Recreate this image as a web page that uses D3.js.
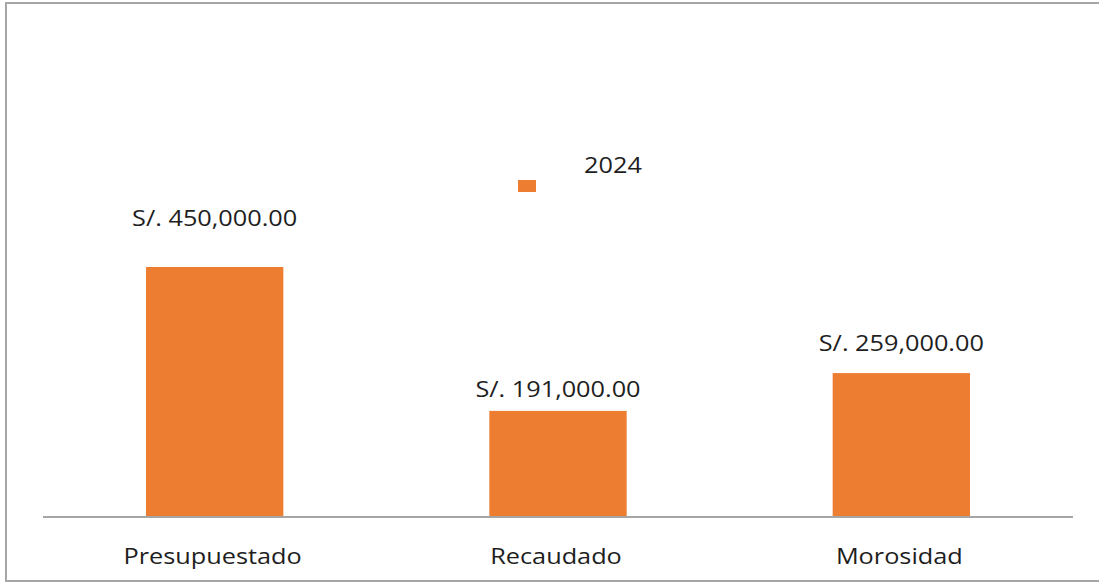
<!DOCTYPE html>
<html>
<head>
<meta charset="utf-8">
<script src="https://cdn.jsdelivr.net/npm/d3@7"></script>
<style>
  html, body { margin: 0; padding: 0; background: #fff; }
  svg { display: block; font-family: "Open Sans", "DejaVu Sans", sans-serif; }
</style>
</head>
<body>
<div id="chart"></div>
<script>
'use strict';
// chart data
var categories = ['Presupuestado', 'Recaudado', 'Morosidad'];
var values2024 = [450000, 191000, 259000];
var seriesName = '2024';
// label gap above each bar, as it sits in the original
var labelGap = [41, 14, 22];

var width = 1099, height = 583;
var orange = '#ED7D31';
var stretch = 1.15;

var svg = d3.select('#chart').append('svg')
  .attr('width', width)
  .attr('height', height);

// outer frame
svg.append('rect')
  .attr('x', 6).attr('y', 3)
  .attr('width', 1100).attr('height', 578)
  .attr('fill', 'none')
  .attr('stroke', '#a6a6a6')
  .attr('stroke-width', 2);

var x = d3.scaleBand()
  .domain(categories)
  .range([43, 1073])
  .paddingInner(0.6)
  .paddingOuter(0.3);

var y = d3.scaleLinear()
  .domain([0, 450000])
  .range([517, 267]);

var fmt = function(v) { return 'S/. ' + d3.format(',.2f')(v); };

function stretchedText(sel) {
  return sel.attr('transform', function(d) { return 'translate(' + d.x + ',' + d.y + ') scale(' + stretch + ',1)'; })
    .attr('text-anchor', 'middle')
    .attr('font-size', 22)
    .attr('fill', '#1e1e1e');
}

var rows = categories.map(function(c, i) {
  return { name: c, value: values2024[i], gap: labelGap[i] };
});

svg.selectAll('rect.bar')
  .data(rows)
  .enter().append('rect')
  .attr('class', 'bar')
  .attr('x', function(d) { return x(d.name); })
  .attr('width', x.bandwidth())
  .attr('y', function(d) { return y(d.value); })
  .attr('height', function(d) { return y(0) - y(d.value); })
  .attr('fill', orange);

// category axis line
svg.append('line')
  .attr('x1', x.range()[0]).attr('x2', x.range()[1])
  .attr('y1', y(0)).attr('y2', y(0))
  .attr('stroke', '#a6a6a6')
  .attr('stroke-width', 2);

svg.selectAll('text.cat')
  .data(rows.map(function(d) { return { t: d.name, x: x(d.name) + x.bandwidth() / 2 - 2, y: 564 }; }))
  .enter().append('text')
  .attr('class', 'cat')
  .call(stretchedText)
  .text(function(d) { return d.t; });

svg.selectAll('text.val')
  .data(rows.map(function(d) { return { t: fmt(d.value), x: x(d.name) + x.bandwidth() / 2, y: y(d.value) - d.gap }; }))
  .enter().append('text')
  .attr('class', 'val')
  .call(stretchedText)
  .text(function(d) { return d.t; });

// legend
var legend = svg.append('g');
legend.append('rect')
  .attr('x', 518).attr('y', 180)
  .attr('width', 18).attr('height', 12)
  .attr('fill', orange);
legend.append('text')
  .datum({ x: 613, y: 173 })
  .call(stretchedText)
  .text(seriesName);
</script>
</body>
</html>
